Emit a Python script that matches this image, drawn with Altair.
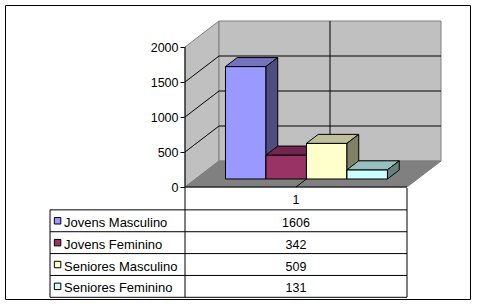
import altair as alt
import pandas as pd

# ---------------- data ----------------
categories = ["Jovens Masculino", "Jovens Feminino", "Seniores Masculino", "Seniores Feminino"]
values = [1606, 342, 509, 131]
front_colors = ["#9999FF", "#993366", "#FFFFCC", "#CCFFFF"]
top_colors = ["#7373BF", "#73264D", "#BFBF99", "#99BFBF"]
side_colors = ["#4D4D80", "#4D1A33", "#808066", "#668080"]
y_ticks = [0, 500, 1000, 1500, 2000]
grid_values = [500, 1000, 1500]
category_label = "1"

# ---------------- geometry (pseudo-3D projection, in data units) ----------------
Y_MAX = 2000
DU = 34 / 222          # depth shift in x units per depth unit
DV = 26 / 0.07         # depth shift in value units per depth unit
D0, D1 = 0.308, 0.654  # bar front / back depth
W = 0.1824             # bar width (category = 1 unit)
TABLE_LEFT = -0.608
LABEL_X = -0.545
SWATCH_X = -0.574

xscale = alt.Scale(domain=[-0.81081, 1.28378], nice=False, zero=False)
yscale = alt.Scale(domain=[-1600, 2600], nice=False, zero=False)
rscale = alt.Scale(domain=[-1.5, 3.5], range=[183, 292.3], nice=False, zero=False)
yaxis = alt.Axis(values=y_ticks, offset=-180, domain=False, grid=False, tickSize=5,
                 tickColor="black", labelColor="black", labelFont="Liberation Sans",
                 labelFontSize=12.5, labelPadding=2, title=None, orient="left", format="d")

# walls + floor faces
wall_rows = []
def face(fid, pts, fill, stroke, rows):
    for (x, a, b) in pts:
        rows.append({"face": fid, "x": x, "y1": a, "y2": b, "fill": fill, "stroke": stroke})

face("w0", [(0, 0, Y_MAX), (DU, DV, Y_MAX + DV)], "#C0C0C0", "#808080", wall_rows)
face("w1", [(DU, DV, Y_MAX + DV), (1 + DU, DV, Y_MAX + DV)], "#C0C0C0", "#808080", wall_rows)
face("w2", [(0, 0, 0), (DU, 0, DV), (1, 0, DV), (1 + DU, DV, DV)], "#808080", "#808080", wall_rows)
walls_df = pd.DataFrame(wall_rows)

# gridlines and dividers
line_rows = []
for g in grid_values:
    for k, (x, y) in enumerate([(0, g), (DU, g + DV), (1 + DU, g + DV)]):
        line_rows.append({"line": f"g{g}", "k": k, "x": x, "y1": y})
for k, (x, y) in enumerate([(0.5 + DU, DV), (0.5 + DU, Y_MAX + DV)]):
    line_rows.append({"line": "vb", "k": k, "x": x, "y1": y})
for k, (x, y) in enumerate([(0.5, 0), (0.5 + DU, DV)]):
    line_rows.append({"line": "vf", "k": k, "x": x, "y1": y})
lines_df = pd.DataFrame(line_rows)

# bars
bar_rows = []
n = len(values)
for i, val in enumerate(values):
    ul = 0.5 - n / 2 * W + i * W
    xl = ul + D0 * DU
    xr = xl + W
    dx = (D1 - D0) * DU
    b0, b1 = D0 * DV, D1 * DV
    F, B = val + b0, val + b1
    face(f"b{i}0", [(xl, b0, F), (xr, b0, F)], front_colors[i], "black", bar_rows)
    face(f"b{i}1", [(xl, F, F), (xl + dx, F, B), (xr, F, B), (xr + dx, B, B)], top_colors[i], "black", bar_rows)
    face(f"b{i}2", [(xr, b0, F), (xr + dx, b1, B)], side_colors[i], "black", bar_rows)
bars_df = pd.DataFrame(bar_rows)

def area_layer(df, sw):
    return alt.Chart(df).mark_area(strokeWidth=sw).encode(
        x=alt.X("x:Q", scale=xscale, axis=None),
        y=alt.Y("y1:Q", scale=yscale, axis=yaxis, stack=None),
        y2="y2:Q",
        detail="face:N",
        fill=alt.Fill("fill:N", scale=None),
        stroke=alt.Stroke("stroke:N", scale=None),
    )

walls = area_layer(walls_df, 1)
bars = area_layer(bars_df, 1)

lines = alt.Chart(lines_df).mark_line(color="black", strokeWidth=1).encode(
    x=alt.X("x:Q", scale=xscale, axis=None),
    y=alt.Y("y1:Q", scale=yscale, axis=yaxis),
    detail="line:N",
    order="k:Q",
)

# value axis line and base line
axis_df = pd.DataFrame({"x": [0.0], "y1": [0], "y2": [Y_MAX]})
axis_rule = alt.Chart(axis_df).mark_rule(color="black", strokeWidth=1).encode(
    x=alt.X("x:Q", scale=xscale, axis=None),
    y=alt.Y("y1:Q", scale=yscale, axis=yaxis),
    y2="y2:Q",
)
base_df = pd.DataFrame({"x": [0.0], "x2": [1.0], "y1": [0]})
base_rule = alt.Chart(base_df).mark_rule(color="black", strokeWidth=1).encode(
    x=alt.X("x:Q", scale=xscale, axis=None), x2="x2:Q",
    y=alt.Y("y1:Q", scale=yscale, axis=yaxis),
)

main = alt.layer(walls, lines, bars, base_rule, axis_rule)

# ---------------- data table ----------------
rows = list(range(len(categories)))
tab_df = pd.DataFrame({
    "row": rows,
    "label": categories,
    "value": [str(v) for v in values],
    "color": front_colors,
})
hrules = pd.DataFrame({"y": [r - 0.5 for r in range(len(categories) + 1)],
                       "x1": TABLE_LEFT, "x2": 1.0})
vrules = pd.DataFrame({"x": [TABLE_LEFT, 0.0, 1.0], "y1": [-0.5, -1.5, -1.5], "y2": [3.5, 3.5, 3.5]})

h = alt.Chart(hrules).mark_rule(color="black", strokeWidth=1).encode(
    x=alt.X("x1:Q", scale=xscale, axis=None), x2="x2:Q",
    y=alt.Y("y:Q", scale=rscale, axis=None),
)
v = alt.Chart(vrules).mark_rule(color="black", strokeWidth=1).encode(
    x=alt.X("x:Q", scale=xscale, axis=None),
    y=alt.Y("y1:Q", scale=rscale, axis=None), y2="y2:Q",
)
sw = alt.Chart(tab_df).mark_square(size=42, stroke="black", strokeWidth=1, opacity=1).encode(
    x=alt.X("sx:Q", scale=xscale, axis=None),
    y=alt.Y("row:Q", scale=rscale, axis=None),
    fill=alt.Fill("color:N", scale=None),
).transform_calculate(sx=str(SWATCH_X))
labels = alt.Chart(tab_df).mark_text(align="left", baseline="middle", font="Liberation Sans",
                                     fontSize=13, color="black", dy=2).encode(
    x=alt.X("lx:Q", scale=xscale, axis=None),
    y=alt.Y("row:Q", scale=rscale, axis=None),
    text="label:N",
).transform_calculate(lx=str(LABEL_X))
vals = alt.Chart(tab_df).mark_text(align="center", baseline="middle", font="Liberation Sans",
                                   fontSize=12.5, color="black", dy=2).encode(
    x=alt.X("vx:Q", scale=xscale, axis=None),
    y=alt.Y("row:Q", scale=rscale, axis=None),
    text="value:N",
).transform_calculate(vx="0.5")
head_df = pd.DataFrame({"x": [0.5], "row": [-1], "t": [category_label]})
head = alt.Chart(head_df).mark_text(align="center", baseline="middle", font="Liberation Sans",
                                    fontSize=12.5, color="black", dy=1).encode(
    x=alt.X("x:Q", scale=xscale, axis=None),
    y=alt.Y("row:Q", scale=rscale, axis=None),
    text="t:N",
)

table = alt.layer(h, v, sw, labels, vals, head)

chart = alt.layer(main, table).resolve_scale(y="independent").properties(
    width=465, height=294,
    padding={"left": 5, "top": 5, "right": 7, "bottom": 6},
    autosize=alt.AutoSizeParams(type="none"),
    background="white",
).configure_view(stroke="black", strokeWidth=1)

chart.save("out.html", embed_options={"renderer": "svg", "actions": False})
